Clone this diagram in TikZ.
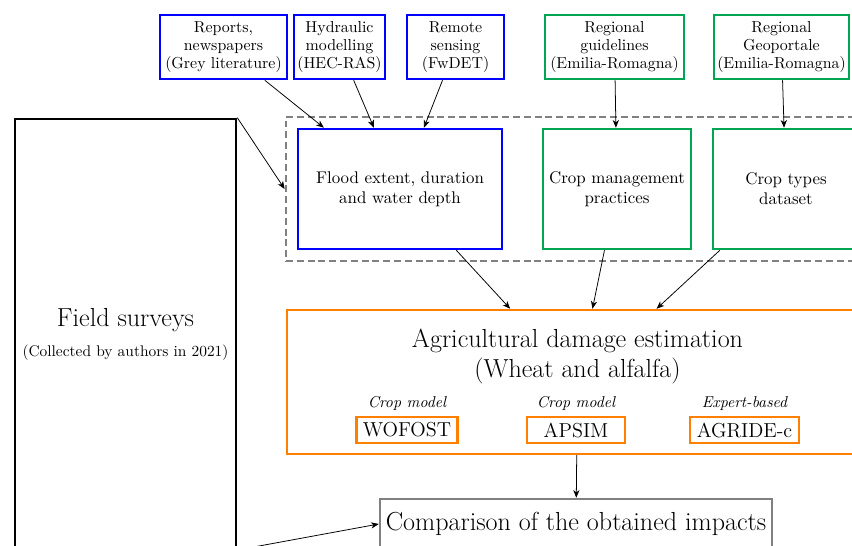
\documentclass[tikz,border=0pt]{standalone}
\usepackage{fontspec}
\usepackage{xcolor}
\usepackage{tikz}
\usetikzlibrary{arrows.meta, positioning, fit}

\definecolor{srcblue}{RGB}{0,0,255}
\definecolor{srcgreen}{RGB}{0,166,81}
\definecolor{dmgorange}{RGB}{255,128,0}

\begin{document}
\begin{tikzpicture}[
    x=0.648pt, y=-0.648pt,
    srcbox/.style={rectangle, draw, line width=1.6pt, align=center, inner sep=2pt, minimum height=41.5pt, font=\fontsize{10.3}{11.7}\selectfont},
    databox/.style={rectangle, draw, line width=1.6pt, align=center, inner sep=3pt, minimum height=77.8pt, font=\fontsize{10.95}{13}\selectfont},
    groupbox/.style={rectangle, draw=gray, line width=1.7pt, dash pattern=on 4.5pt off 2.5pt, inner sep=7pt},
    dmgbox/.style={rectangle, draw=dmgorange, line width=1.6pt},
    modelbox/.style={rectangle, draw=dmgorange, line width=1.6pt, inner sep=1pt, minimum height=16.8pt, font=\fontsize{13.1}{15}\selectfont},
    modeltag/.style={inner sep=3pt, font=\fontsize{10.2}{12}\selectfont\itshape},
    bigtext/.style={align=center, font=\fontsize{16.9}{19.4}\selectfont},
    arrow/.style={-{Stealth[length=5pt, width=4pt, inset=1.5pt]}, line width=0.5pt}
]
\useasboundingbox (0,0) rectangle (852,546);
\clip (0,0) rectangle (852,546);

% data sources
\node[srcbox, draw=srcblue, minimum width=82.3pt] (reports) at (223.5,47) {Reports,\\newspapers\\(Grey literature)};
\node[srcbox, draw=srcblue, minimum width=57.7pt] (hecras) at (339.5,47) {Hydraulic\\modelling\\(HEC-RAS)};
\node[srcbox, draw=srcblue, minimum width=62.9pt] (fwdet) at (455.5,47) {Remote\\sensing\\(FwDET)};
\node[srcbox, draw=srcgreen, minimum width=90.1pt] (guidelines) at (614.5,47) {Regional\\guidelines\\(Emilia-Romagna)};
\node[srcbox, draw=srcgreen, minimum width=87.5pt] (geoportale) at (781.5,47) {Regional\\Geoportale\\(Emilia-Romagna)};

% input datasets
\node[databox, draw=srcblue, minimum width=132.2pt] (flood) at (400,189) {Flood extent, duration\\and water depth};
\node[databox, draw=srcgreen, minimum width=95.9pt] (cropmgmt) at (617,189) {Crop management\\practices};
\node[databox, draw=srcgreen, minimum width=94.6pt] (croptypes) at (786,189) {Crop types\\dataset};
\node[groupbox, fit=(flood)(cropmgmt)(croptypes)] (datasets) {};

% field surveys
\node[rectangle, draw, line width=1.7pt, minimum width=143.2pt, minimum height=558.6pt] (field) at (125.5,550) {};
\node[bigtext, anchor=base] (fieldtitle) at (125.5,327) {Field surveys};
\node[anchor=base, font=\fontsize{10}{12}\selectfont] (fieldnote) at (125.5,357) {(Collected by authors in 2021)};

% damage models
\node[dmgbox, minimum width=376.5pt, minimum height=93.3pt] (damage) at (577.5,382) {};
\node[bigtext] (dmgtitle) at (577.5,357) {Agricultural damage estimation\\(Wheat and alfalfa)};
\node[modelbox, minimum width=65.4pt] (wofost) at (407,430) {WOFOST};
\node[modelbox, minimum width=63.5pt] (apsim) at (576,430) {APSIM};
\node[modelbox, minimum width=70.6pt] (agride) at (744.5,430) {AGRIDE-c};
\node[modeltag, above=0pt of wofost] (wofosttag) {Crop model};
\node[modeltag, above=0pt of apsim] (apsimtag) {Crop model};
\node[modeltag, above=0pt of agride] (agridetag) {Expert-based};

\node[rectangle, draw=gray, line width=1.6pt, minimum width=254pt, minimum height=32.4pt, font=\fontsize{16.9}{19}\selectfont] (compare) at (576,524) {Comparison of the obtained impacts};

\draw[arrow] (reports) -- (flood);
\draw[arrow] (hecras) -- (flood);
\draw[arrow] (fwdet) -- (flood);
\draw[arrow] (guidelines) -- (cropmgmt);
\draw[arrow] (geoportale) -- (croptypes);
\draw[arrow] (field.north east) -- (datasets.west);
\draw[arrow] (flood) -- (damage);
\draw[arrow] (cropmgmt) -- (damage);
\draw[arrow] (croptypes) -- (damage);
\draw[arrow] (damage) -- (compare);
\draw[arrow] (field.east) -- (compare.west);
\end{tikzpicture}
\end{document}
